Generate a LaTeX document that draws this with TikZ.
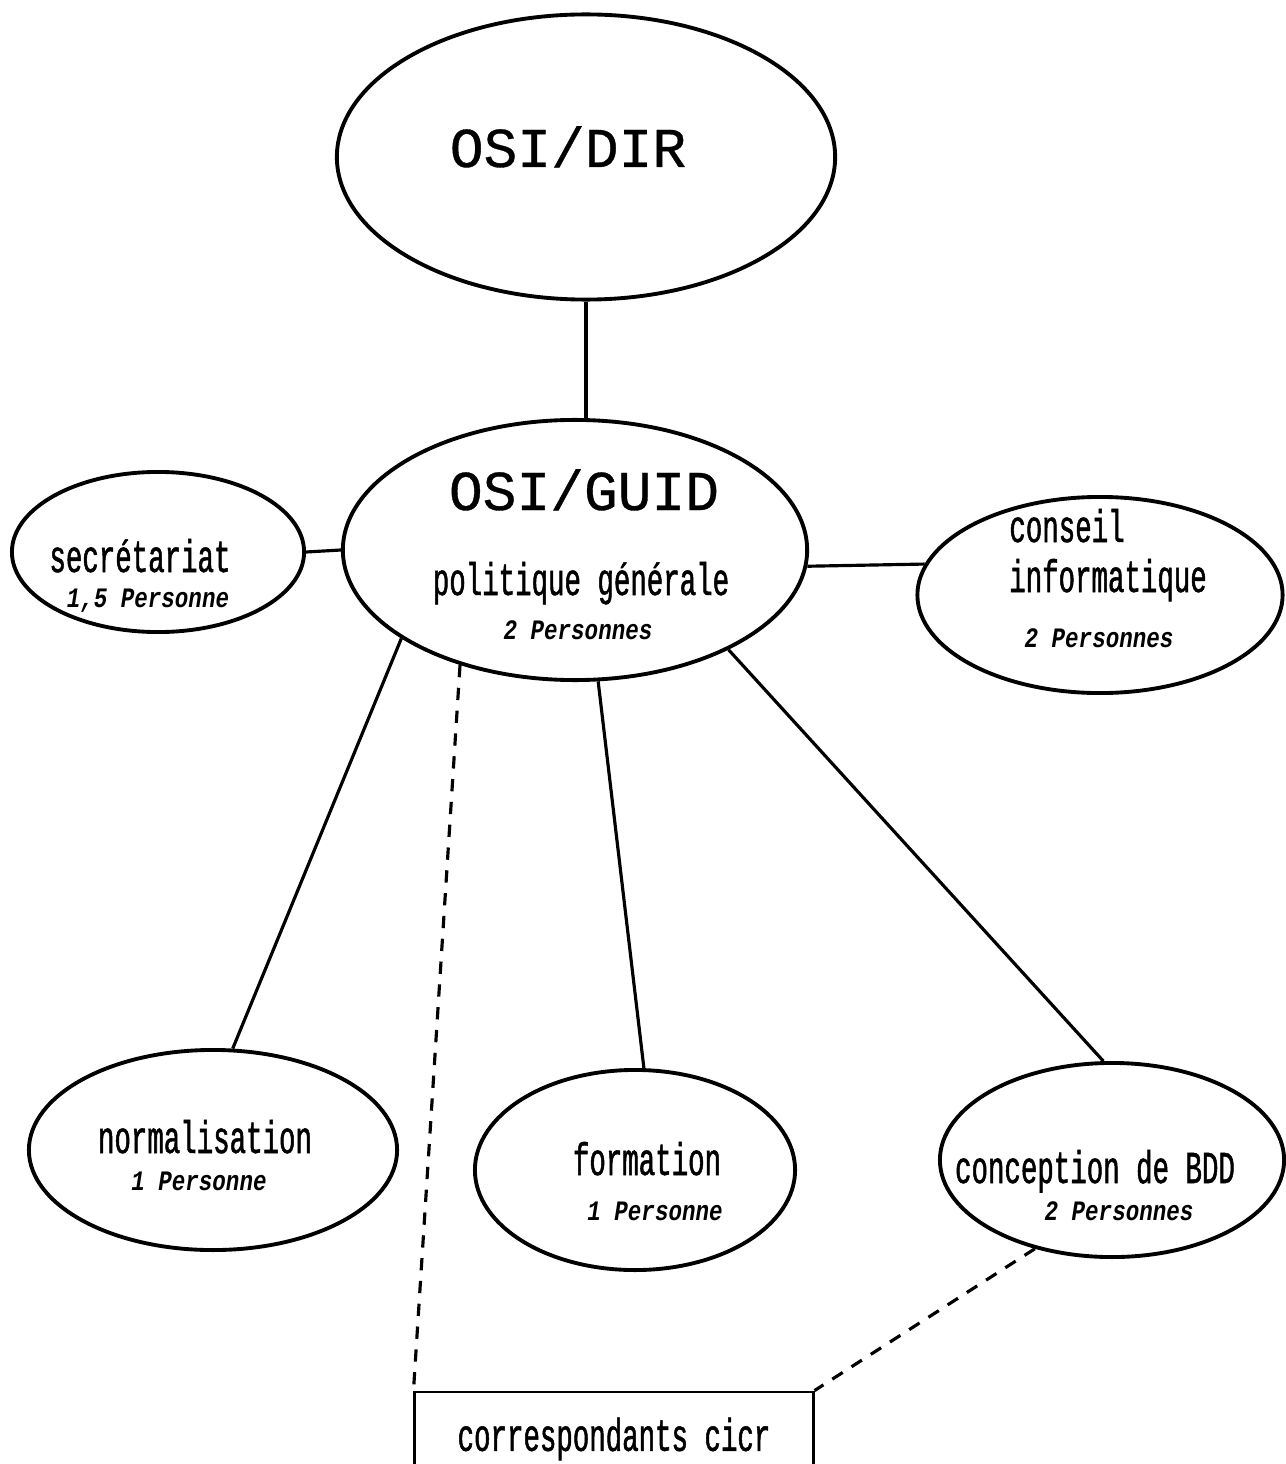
\documentclass[tikz,border=0pt]{standalone}
\usepackage{fontspec}
\setmonofont[FakeBold=0.6]{Liberation Mono}
\newfontfamily\condtt[FakeStretch=0.6, FakeBold=1.1]{Liberation Mono}
\newfontfamily\perstt[FakeStretch=0.8]{Liberation Mono}
\usetikzlibrary{shapes.geometric}

\begin{document}
\begin{tikzpicture}[x=0.01cm, y=-0.01cm,
    dept/.style={ellipse, draw=black, line width=1.1pt, inner sep=0pt},
    head/.style={anchor=base, inner sep=0pt, font=\ttfamily\fontsize{16}{18}\selectfont},
    txt/.style={anchor=base, inner sep=0pt, font=\condtt\fontsize{13}{15}\selectfont},
    staff/.style={anchor=base, inner sep=0pt, font=\perstt\bfseries\itshape\fontsize{8}{10}\selectfont},
    corrbox/.style={rectangle, draw=black, line width=0.8pt, inner sep=0pt, font=\condtt\fontsize{13}{15}\selectfont},
    link/.style={line width=0.9pt},
    hint/.style={line width=0.9pt, dash pattern=on 3.5pt off 3pt}
]
    \useasboundingbox (0,0) rectangle (1285,1464);

    \node[dept, minimum width=4.98cm, minimum height=2.85cm] at (586,157) (dir) {};
    \node[dept, minimum width=4.64cm, minimum height=2.6cm] at (575,550) (guid) {};
    \node[dept, minimum width=2.92cm, minimum height=1.6cm] at (158,552) (secr) {};
    \node[dept, minimum width=3.65cm, minimum height=1.96cm] at (1100,595) (cons) {};
    \node[dept, minimum width=3.68cm, minimum height=2.0cm] at (213,1150) (norm) {};
    \node[dept, minimum width=3.2cm, minimum height=2.0cm] at (635,1170) (form) {};
    \node[dept, minimum width=3.44cm, minimum height=1.94cm] at (1112,1160) (bdd) {};
    \node[corrbox, minimum width=3.98cm, minimum height=0.94cm] at (614,1439) (corr) {correspondants cicr};

    \node[head] at (568,167) (dir-t) {OSI/DIR};
    \node[head] at (584,510) (guid-t) {OSI/GUID};
    \node[txt] at (581,595) (guid-r) {politique générale};
    \node[staff] at (578,639) (guid-s) {2 Personnes};
    \node[txt] at (140,572) (secr-t) {secrétariat};
    \node[staff] at (148,607) (secr-s) {1,5 Personne};
    \node[txt] at (1067,542) (cons-t) {conseil};
    \node[txt] at (1108,592) (cons-u) {informatique};
    \node[staff] at (1099,647) (cons-s) {2 Personnes};
    \node[txt] at (205,1153) (norm-t) {normalisation};
    \node[staff] at (199,1190) (norm-s) {1 Personne};
    \node[txt] at (647,1175) (form-t) {formation};
    \node[staff] at (655,1220) (form-s) {1 Personne};
    \node[txt] at (1095,1183) (bdd-t) {conception de BDD};
    \node[staff] at (1119,1220) (bdd-s) {2 Personnes};

    \draw[link] (dir.south) -- (guid.north -| dir.south);
    \draw[link] (secr.east) -- (guid.west);
    \draw[link] (guid.356) -- (cons.170);
    \draw[link] (guid.207) -- (norm.79);
    \draw[link] (guid.280) -- (form.85);
    \draw[link] (guid.327) -- (bdd.95);
    \draw[hint] (guid.225) -- (corr.north west);
    \draw[hint] (bdd.229) -- (corr.north east);
\end{tikzpicture}
\end{document}
